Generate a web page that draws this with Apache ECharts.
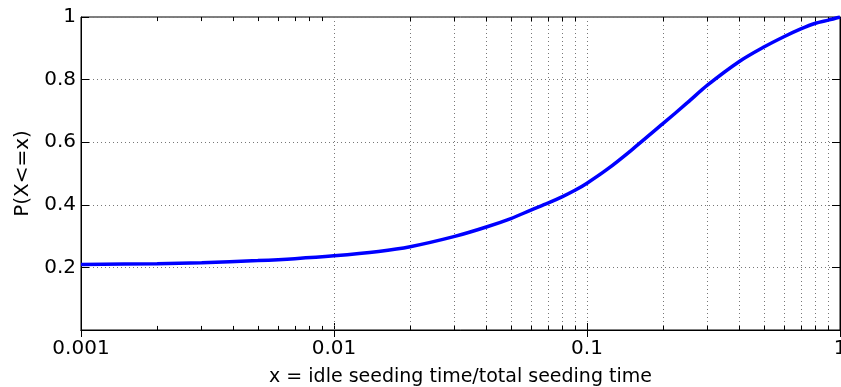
<!DOCTYPE html>
<html>
<head>
<meta charset="utf-8">
<script src="https://cdn.jsdelivr.net/npm/echarts@6/dist/echarts.min.js"></script>
<style>
  html, body { margin: 0; padding: 0; background: #fff; }
  #chart { width: 841px; height: 387px; }
</style>
</head>
<body>
<div id="chart"></div>
<script>
// x = idle seeding time / total seeding time (log scale)
const xValues = [0.001, 0.002, 0.003, 0.005, 0.007, 0.01, 0.015, 0.02, 0.03, 0.04, 0.05, 0.06, 0.07,
  0.08, 0.09, 0.1, 0.12, 0.15, 0.2, 0.25, 0.3, 0.4, 0.5, 0.6, 0.7, 0.8, 0.9, 1];
// P(X<=x)
const cdfValues = [0.209, 0.212, 0.215, 0.222, 0.228, 0.237, 0.251, 0.266, 0.299, 0.329, 0.356, 0.383, 0.405,
  0.426, 0.447, 0.469, 0.513, 0.575, 0.66, 0.727, 0.783, 0.858, 0.904, 0.937, 0.962, 0.98, 0.99, 1];
// minor grid positions of the log axis
const minorGridX = [0.002, 0.003, 0.004, 0.005, 0.006, 0.007, 0.008, 0.009,
  0.02, 0.03, 0.04, 0.05, 0.06, 0.07, 0.08, 0.09,
  0.2, 0.3, 0.4, 0.5, 0.6, 0.7, 0.8, 0.9];

const font = "DejaVu Sans";
const gridStyle = { color: "#777", width: 1, type: [1, 3] };
const tickStyle = { color: "#000", width: 1, type: "solid" };
const minorTickLen = 0.013; // in y units, about 4px

const chart = echarts.init(document.getElementById("chart"));

// vertical dotted grid lines at the minor log positions
const markData = minorGridX.map(v => ({ xAxis: v, lineStyle: gridStyle }));
// small inward tick marks at bottom and top
minorGridX.forEach(v => {
  markData.push([{ coord: [v, 0], lineStyle: tickStyle }, { coord: [v, minorTickLen] }]);
  markData.push([{ coord: [v, 1], lineStyle: tickStyle }, { coord: [v, 1 - minorTickLen] }]);
});

chart.setOption({
  animation: false,
  backgroundColor: "#fff",
  grid: {
    left: 81, right: 1, top: 17, bottom: 57,
    outerBoundsMode: "none",
    show: true, borderColor: "#000", borderWidth: 1
  },
  xAxis: [
    {
      type: "log",
      logBase: 10,
      min: 0.001,
      max: 1,
      name: "x = idle seeding time/total seeding time",
      nameLocation: "middle",
      nameGap: 38,
      nameTextStyle: { fontFamily: font, fontSize: 19, color: "#000" },
      axisLine: { show: true, lineStyle: { color: "#000", width: 1 } },
      axisTick: { show: true, inside: true, length: 7, lineStyle: { color: "#000" } },
      axisLabel: {
        fontFamily: font, fontSize: 20, color: "#000", margin: 9,
        formatter: v => String(+(+v).toPrecision(3))
      },
      splitLine: { show: true, lineStyle: gridStyle }
    },
    {
      type: "log",
      logBase: 10,
      min: 0.001,
      max: 1,
      position: "top",
      axisLine: { show: true, lineStyle: { color: "#000", width: 1 } },
      axisTick: { show: true, inside: true, length: 7, lineStyle: { color: "#000" } },
      axisLabel: { show: false },
      splitLine: { show: false }
    }
  ],
  yAxis: [
    {
      type: "value",
      min: 0,
      max: 1,
      interval: 0.2,
      name: "P(X<=x)",
      nameLocation: "middle",
      nameGap: 41,
      nameTextStyle: { fontFamily: font, fontSize: 20, color: "#000" },
      axisLine: { show: true, lineStyle: { color: "#000", width: 1 } },
      axisTick: { show: true, inside: true, length: 8, lineStyle: { color: "#000" } },
      axisLabel: {
        fontFamily: font, fontSize: 20, color: "#000", margin: 5,
        formatter: v => (v === 0 ? "" : String(+v.toFixed(1)))
      },
      splitLine: { show: true, lineStyle: gridStyle }
    },
    {
      type: "value",
      min: 0,
      max: 1,
      interval: 0.2,
      position: "right",
      axisLine: { show: true, lineStyle: { color: "#000", width: 1 } },
      axisTick: { show: true, inside: true, length: 8, lineStyle: { color: "#000" } },
      axisLabel: { show: false },
      splitLine: { show: false }
    }
  ],
  series: [
    {
      type: "line",
      xAxisIndex: 0,
      yAxisIndex: 0,
      data: xValues.map((x, i) => [x, cdfValues[i]]),
      smooth: 0.3,
      showSymbol: false,
      lineStyle: { color: "#0000ff", width: 3.5 },
      z: 5,
      markLine: {
        silent: true,
        symbol: "none",
        label: { show: false },
        data: markData
      }
    }
  ]
});
</script>
</body>
</html>
